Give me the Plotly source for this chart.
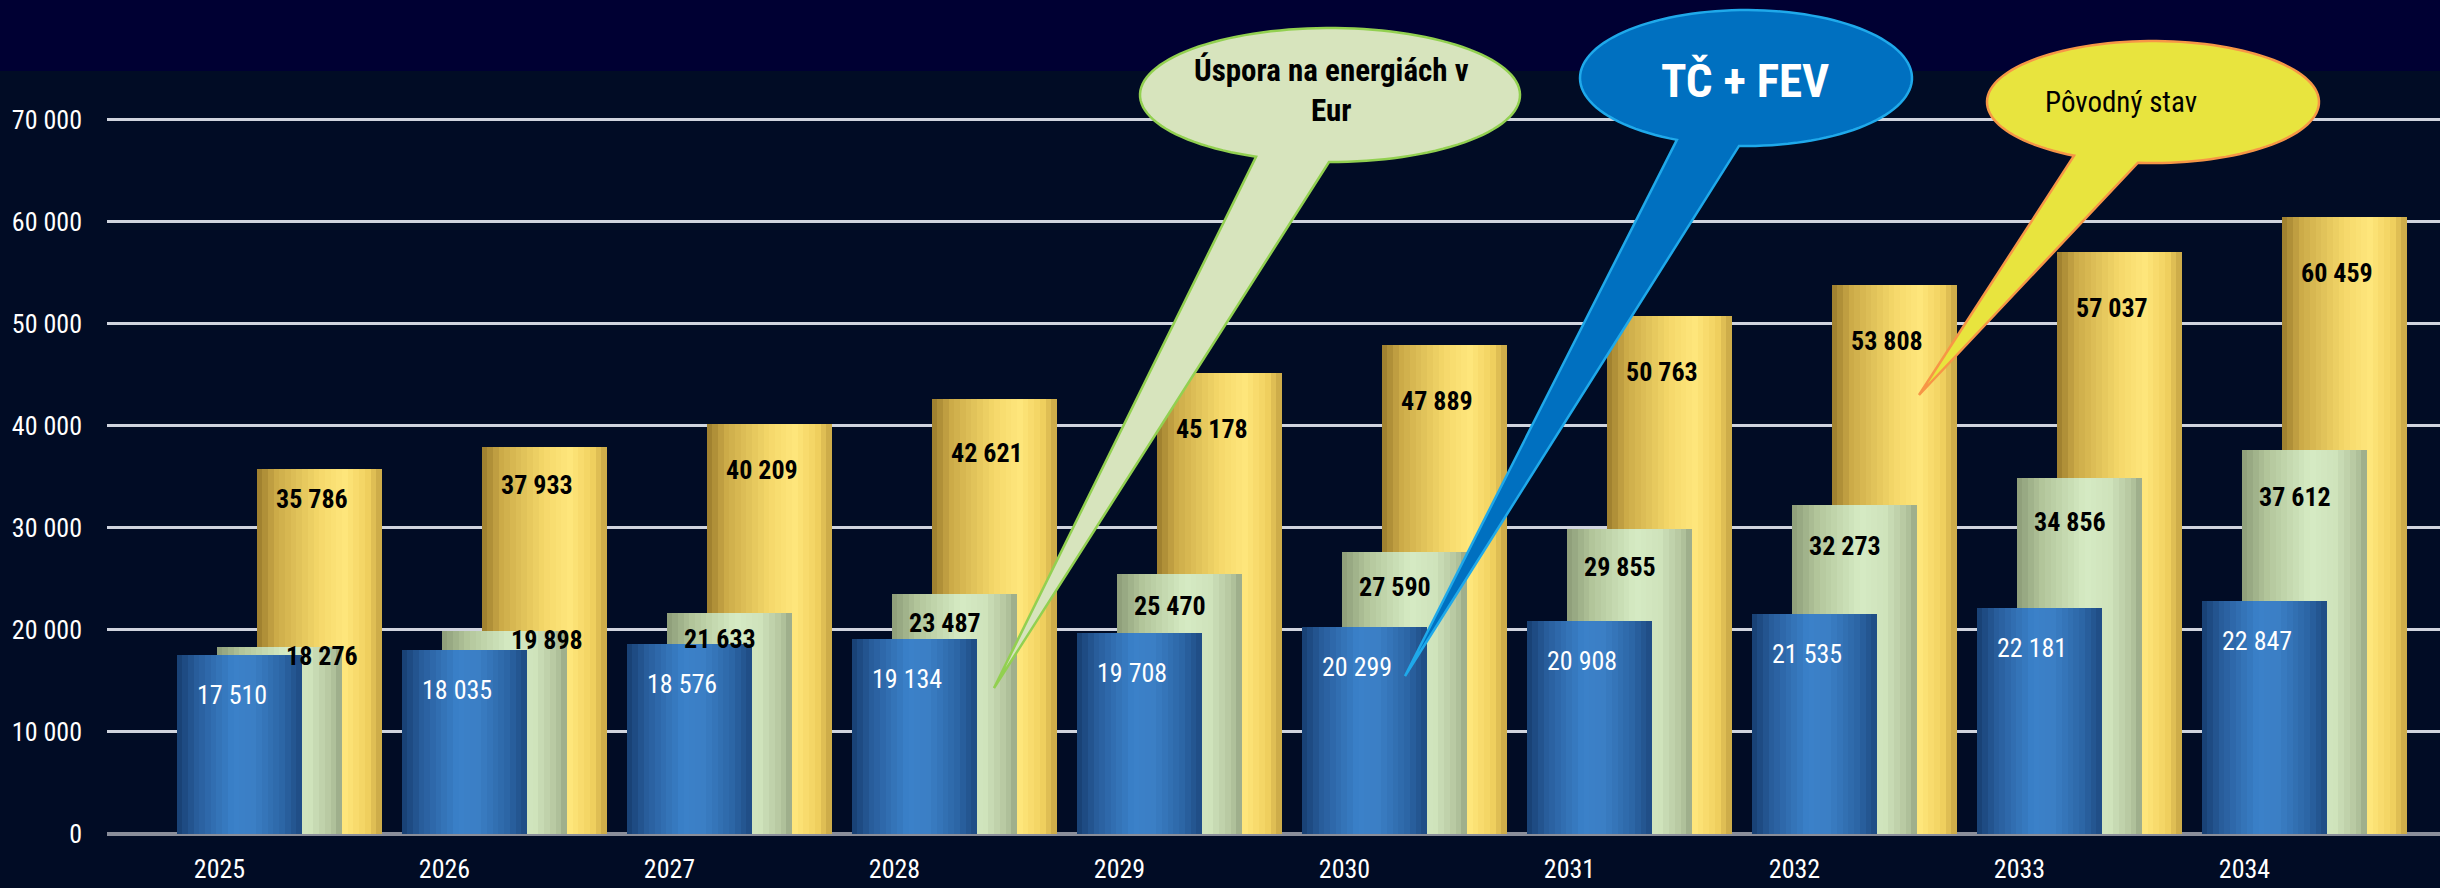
import numpy as np
import plotly.graph_objects as go

# ---------------- data ----------------
years = ["2025", "2026", "2027", "2028", "2029", "2030", "2031", "2032", "2033", "2034"]
tc_fev = [17510, 18035, 18576, 19134, 19708, 20299, 20908, 21535, 22181, 22847]      # TČ + FEV
uspora = [18276, 19898, 21633, 23487, 25470, 27590, 29855, 32273, 34856, 37612]      # Úspora na energiách v Eur
povodny = [35786, 37933, 40209, 42621, 45178, 47889, 50763, 53808, 57037, 60459]     # Pôvodný stav
y_ticks = [0, 10000, 20000, 30000, 40000, 50000, 60000, 70000]

# ---------------- geometry / style ----------------
W, H = 2440, 888
ML, MR, MT, MB = 107, 0, 99, 54
PW, PH = W - ML - MR, H - MT - MB
YMAX = 72000
UNIT = 225.0          # px per category
BAR_W = 125.5         # px
FONT = "Liberation Sans Narrow, Arial Narrow, Roboto Condensed, DejaVu Sans Condensed, Liberation Sans, sans-serif"
BG = "#010c25"
BAND = "#000033"

def hex2rgb(h):
    h = h.lstrip("#")
    return tuple(int(h[i:i + 2], 16) for i in (0, 2, 4))

def grad(stops, t):
    for (t0, c0), (t1, c1) in zip(stops[:-1], stops[1:]):
        if t0 <= t <= t1:
            a = (t - t0) / (t1 - t0) if t1 > t0 else 0
            r0, g0, b0 = hex2rgb(c0)
            r1, g1, b1 = hex2rgb(c1)
            return "rgb(%d,%d,%d)" % (r0 + (r1 - r0) * a, g0 + (g1 - g0) * a, b0 + (b1 - b0) * a)
    return stops[-1][1]

blue_stops = [(0, "#173e70"), (0.15, "#285c9a"), (0.45, "#3b82ca"), (0.62, "#3b7fc5"),
              (0.85, "#2c65a5"), (1.0, "#1e4a82")]
green_stops = [(0, "#8c9c78"), (0.2, "#b2c59a"), (0.55, "#d6ebc4"), (0.75, "#cfe3bb"),
               (0.92, "#b4c59e"), (1.0, "#98a785")]
gold_stops = [(0, "#9a7c2c"), (0.15, "#cbaa48"), (0.5, "#f5d86a"), (0.7, "#ffe77c"),
              (0.88, "#f2d260"), (1.0, "#c6a545")]

series = [  # back to front
    ("Pôvodný stav", povodny, 37.0, gold_stops),
    ("Úspora na energiách v Eur", uspora, -3.0, green_stops),
    ("TČ + FEV", tc_fev, -43.0, blue_stops),
]

fig = go.Figure()
N = 22
for name, vals, off_px, stops in series:
    sw = BAR_W / N
    for k in range(N):
        t = (k + 0.5) / N
        extra = 1.0 if k < N - 1 else 0.0
        fig.add_trace(go.Bar(
            x=years, y=vals, name=name,
            offset=(off_px + k * sw) / UNIT,
            width=(sw + extra) / UNIT,
            marker=dict(color=grad(stops, t), line=dict(width=0)),
            showlegend=False,
            hoverinfo="skip" if k != N // 2 else "x+y+name",
        ))

def fmt(v):
    return f"{v:,}".replace(",", " ")

px_per_unit = PH / YMAX
ann = []
for i, yr in enumerate(years):
    # blue labels
    ann.append(dict(x=i, y=tc_fev[i], xref="x", yref="y", text=fmt(tc_fev[i]),
                    showarrow=False, xanchor="center", yanchor="middle",
                    xshift=-43 + BAR_W / 2 - 7, yshift=-40,
                    font=dict(family=FONT, size=26, color="white")))
    # green labels
    gap = (uspora[i] - tc_fev[i]) * px_per_unit
    if gap < 25:
        gx, gy = 102, -9
    else:
        gx, gy = -3 + BAR_W / 2 - 9, -(20 + 3 * i)
    ann.append(dict(x=i, y=uspora[i], xref="x", yref="y", text=fmt(uspora[i]),
                    showarrow=False, xanchor="center", yanchor="middle",
                    xshift=gx, yshift=gy,
                    font=dict(family=FONT, size=26, color="black", weight="bold")))
    # gold labels
    ann.append(dict(x=i, y=povodny[i], xref="x", yref="y", text=fmt(povodny[i]),
                    showarrow=False, xanchor="center", yanchor="middle",
                    xshift=37 + BAR_W / 2 - 7, yshift=-min(30 + 8 * i, 56),
                    font=dict(family=FONT, size=26, color="black", weight="bold")))

def pxx(x):
    return (x - ML) / PW

def pxy(y):
    return (H - MB - y) / PH

shapes = [dict(type="rect", xref="paper", yref="paper", x0=pxx(0), x1=pxx(W),
               y0=pxy(71), y1=pxy(0), fillcolor=BAND, line=dict(width=0), layer="below")]

def callout(cx, cy, rx, ry, th_r, th_l, tip, fill, line):
    ang = np.radians(np.linspace(th_r, th_l - 360, 120))
    pts = [(cx + rx * np.cos(a), cy + ry * np.sin(a)) for a in ang] + [tip]
    path = "M " + " L ".join(f"{pxx(x):.5f},{pxy(y):.5f}" for x, y in pts) + " Z"
    return dict(type="path", xref="paper", yref="paper", path=path, fillcolor=fill,
                line=dict(color=line, width=2.5), layer="above")

shapes.append(callout(1330, 95, 190, 67, 90.3, 112.9, (994, 688), "#d7e4bd", "#92d050"))
shapes.append(callout(1746, 78, 166, 68, 92.4, 114.6, (1405, 676), "#0070c0", "#1fa9ea"))
shapes.append(callout(2153, 102, 166, 61, 95.2, 118.4, (1919, 395), "#e8e43e", "#f79646"))

ann.append(dict(x=pxx(1331), y=pxy(91), xref="paper", yref="paper", showarrow=False,
                xanchor="center", yanchor="middle",
                text="Úspora na energiách v<br>Eur",
                font=dict(family=FONT, size=31, color="black", weight="bold")))
ann.append(dict(x=pxx(1745), y=pxy(80), xref="paper", yref="paper", showarrow=False,
                xanchor="center", yanchor="middle",
                text="TČ + FEV", font=dict(family=FONT, size=47, color="white", weight="bold")))
ann.append(dict(x=pxx(2121), y=pxy(102), xref="paper", yref="paper", showarrow=False,
                xanchor="center", yanchor="middle",
                text="Pôvodný stav", font=dict(family=FONT, size=29, color="black")))

fig.update_layout(
    template="none",
    width=W, height=H,
    margin=dict(l=ML, r=MR, t=MT, b=MB, pad=0),
    paper_bgcolor=BG, plot_bgcolor=BG,
    barmode="overlay", bargap=0,
    separators=". ",
    showlegend=False,
    font=dict(family=FONT, color="white", size=26),
    xaxis=dict(type="category", categoryorder="array", categoryarray=years,
               range=[-0.5, -0.5 + PW / UNIT], showgrid=False, zeroline=False,
               showline=False, ticks="", ticklabelstandoff=17, automargin=False,
               tickfont=dict(family=FONT, size=26, color="white")),
    yaxis=dict(range=[0, YMAX], tickvals=y_ticks, tickformat=",d",
               showgrid=True, gridcolor="#d0d4de", gridwidth=3,
               zeroline=True, zerolinecolor="#8a8e9a", zerolinewidth=4,
               showline=False, ticks="", ticklabelstandoff=24, automargin=False,
               tickfont=dict(family=FONT, size=26, color="white")),
    shapes=shapes,
    annotations=ann,
)

fig.write_html("out.html", config={"displayModeBar": False},
               post_script="document.body.style.margin='0';document.body.style.overflow='hidden';")
